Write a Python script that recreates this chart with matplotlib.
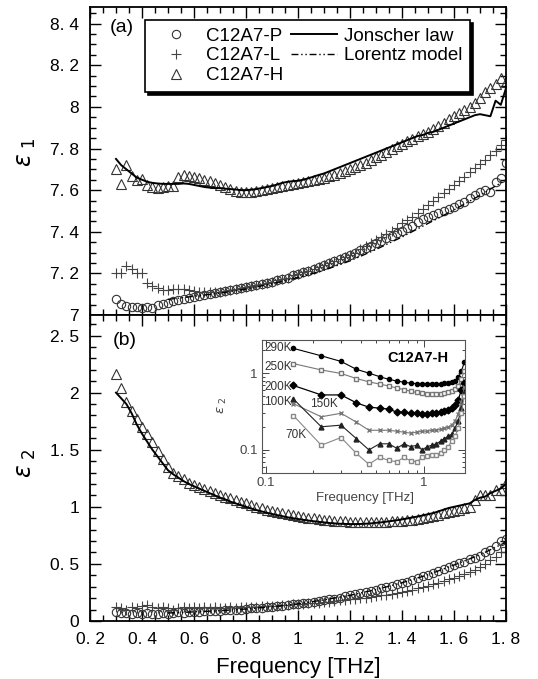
import matplotlib
matplotlib.use("Agg")
from matplotlib import pyplot as plt
from matplotlib.ticker import FixedLocator, FixedFormatter, LogLocator, NullFormatter

plt.rcParams['font.family'] = ['Liberation Sans', 'DejaVu Sans']
plt.rcParams['mathtext.fontset'] = 'dejavusans'

# ---- data ----
freq = [0.30, 0.32, 0.34, 0.36, 0.38, 0.40, 0.42, 0.44, 0.46, 0.48,
        0.50, 0.52, 0.54, 0.56, 0.58, 0.60, 0.62, 0.64, 0.66, 0.68,
        0.70, 0.72, 0.74, 0.76, 0.78, 0.80, 0.82, 0.84, 0.86, 0.88,
        0.90, 0.92, 0.94, 0.96, 0.98, 1.00, 1.02, 1.04, 1.06, 1.08,
        1.10, 1.12, 1.14, 1.16, 1.18, 1.20, 1.22, 1.24, 1.26, 1.28,
        1.30, 1.32, 1.34, 1.36, 1.38, 1.40, 1.42, 1.44, 1.46, 1.48,
        1.50, 1.52, 1.54, 1.56, 1.58, 1.60, 1.62, 1.64, 1.66, 1.68,
        1.70, 1.72, 1.74, 1.76, 1.78, 1.80]

eps1_P = [7.075, 7.055, 7.045, 7.04, 7.04, 7.035, 7.04, 7.035, 7.05, 7.055,
          7.06, 7.065, 7.07, 7.075, 7.08, 7.085, 7.09, 7.095, 7.10, 7.105,
          7.11, 7.115, 7.12, 7.125, 7.13, 7.135, 7.14, 7.145, 7.15, 7.155,
          7.16, 7.167, 7.175, 7.18, 7.19, 7.197, 7.205, 7.213, 7.22, 7.23,
          7.24, 7.25, 7.26, 7.27, 7.28, 7.29, 7.30, 7.31, 7.32, 7.33,
          7.345, 7.355, 7.37, 7.38, 7.395, 7.405, 7.42, 7.43, 7.445, 7.46,
          7.47, 7.48, 7.49, 7.50, 7.51, 7.52, 7.535, 7.545, 7.56, 7.575,
          7.59, 7.60, 7.59, 7.64, 7.66, 7.73]

eps1_L = [7.20, 7.20, 7.235, 7.22, 7.20, 7.20, 7.155, 7.14, 7.13, 7.12,
          7.12, 7.125, 7.125, 7.125, 7.12, 7.115, 7.11, 7.11, 7.11, 7.11,
          7.112, 7.115, 7.12, 7.125, 7.13, 7.135, 7.14, 7.145, 7.15, 7.155,
          7.16, 7.167, 7.175, 7.18, 7.19, 7.197, 7.205, 7.213, 7.222, 7.23,
          7.24, 7.25, 7.26, 7.27, 7.28, 7.29, 7.30, 7.315, 7.33, 7.345,
          7.36, 7.375, 7.39, 7.405, 7.42, 7.44, 7.455, 7.47, 7.49, 7.51,
          7.53, 7.55, 7.565, 7.585, 7.605, 7.625, 7.645, 7.665, 7.685, 7.705,
          7.725, 7.745, 7.77, 7.79, 7.815, 7.84]

eps1_H = [7.70, 7.63, 7.72, 7.67, 7.65, 7.655, 7.625, 7.615, 7.61, 7.615,
          7.62, 7.62, 7.665, 7.675, 7.67, 7.665, 7.66, 7.65, 7.645, 7.635,
          7.625, 7.615, 7.605, 7.595, 7.59, 7.59, 7.59, 7.595, 7.60, 7.605,
          7.61, 7.615, 7.62, 7.625, 7.63, 7.635, 7.64, 7.643, 7.648, 7.655,
          7.66, 7.667, 7.675, 7.683, 7.69, 7.70, 7.71, 7.72, 7.732, 7.745,
          7.757, 7.77, 7.785, 7.80, 7.81, 7.82, 7.835, 7.845, 7.86, 7.87,
          7.88, 7.895, 7.91, 7.925, 7.94, 7.955, 7.97, 7.985, 8.00, 8.02,
          8.045, 8.07, 8.09, 8.11, 8.14, 8.12]

jonscher_eps1 = [7.75, 7.72, 7.70, 7.68, 7.66, 7.65, 7.64, 7.635, 7.632, 7.63,
                 7.63, 7.63, 7.63, 7.632, 7.63, 7.625, 7.62, 7.615, 7.612, 7.61,
                 7.61, 7.607, 7.605, 7.603, 7.60, 7.60, 7.602, 7.605, 7.61, 7.615,
                 7.62, 7.627, 7.635, 7.64, 7.643, 7.645, 7.65, 7.657, 7.665, 7.673,
                 7.68, 7.69, 7.70, 7.71, 7.72, 7.73, 7.74, 7.75, 7.76, 7.77,
                 7.78, 7.79, 7.80, 7.81, 7.82, 7.83, 7.84, 7.85, 7.86, 7.865,
                 7.875, 7.88, 7.89, 7.90, 7.91, 7.92, 7.93, 7.94, 7.95, 7.96,
                 7.965, 7.96, 7.955, 8.03, 8.01, 8.09]

eps2_P = [0.08, 0.07, 0.07, 0.065, 0.07, 0.065, 0.07, 0.06, 0.065, 0.07,
          0.065, 0.07, 0.075, 0.07, 0.075, 0.08, 0.08, 0.085, 0.085, 0.09,
          0.09, 0.095, 0.095, 0.10, 0.10, 0.105, 0.11, 0.11, 0.115, 0.12,
          0.125, 0.13, 0.135, 0.14, 0.145, 0.15, 0.155, 0.16, 0.165, 0.175,
          0.18, 0.19, 0.195, 0.205, 0.215, 0.225, 0.235, 0.245, 0.255, 0.265,
          0.275, 0.285, 0.295, 0.31, 0.32, 0.33, 0.345, 0.36, 0.375, 0.39,
          0.405, 0.42, 0.44, 0.455, 0.47, 0.49, 0.505, 0.52, 0.54, 0.555,
          0.57, 0.60, 0.625, 0.66, 0.70, 0.72]

eps2_L = [0.12, 0.11, 0.10, 0.12, 0.11, 0.13, 0.14, 0.12, 0.11, 0.12,
          0.11, 0.10, 0.11, 0.12, 0.11, 0.12, 0.11, 0.12, 0.11, 0.12,
          0.11, 0.115, 0.12, 0.115, 0.12, 0.12, 0.125, 0.125, 0.13, 0.13,
          0.135, 0.135, 0.14, 0.14, 0.145, 0.15, 0.15, 0.155, 0.16, 0.16,
          0.165, 0.17, 0.175, 0.18, 0.185, 0.19, 0.195, 0.20, 0.205, 0.21,
          0.22, 0.225, 0.23, 0.24, 0.245, 0.255, 0.265, 0.275, 0.285, 0.295,
          0.31, 0.32, 0.335, 0.35, 0.365, 0.38, 0.395, 0.41, 0.43, 0.45,
          0.47, 0.50, 0.53, 0.56, 0.60, 0.65]

eps2_H = [2.16, 2.04, 1.92, 1.84, 1.77, 1.70, 1.64, 1.57, 1.49, 1.42,
          1.35, 1.30, 1.27, 1.24, 1.21, 1.19, 1.17, 1.155, 1.14, 1.12,
          1.105, 1.09, 1.075, 1.06, 1.045, 1.03, 1.015, 1.0, 0.99, 0.975,
          0.965, 0.955, 0.945, 0.935, 0.927, 0.92, 0.913, 0.905, 0.898, 0.892,
          0.887, 0.882, 0.878, 0.875, 0.872, 0.87, 0.868, 0.867, 0.866, 0.866,
          0.867, 0.868, 0.87, 0.872, 0.875, 0.878, 0.882, 0.888, 0.895, 0.903,
          0.912, 0.92, 0.93, 0.942, 0.955, 0.965, 0.975, 0.99, 1.00, 1.06,
          1.10, 1.10, 1.10, 1.15, 1.15, 1.21]

jonscher_eps2 = [2.00, 1.95, 1.90, 1.82, 1.72, 1.64, 1.57, 1.50, 1.44, 1.38,
                 1.32, 1.285, 1.255, 1.225, 1.20, 1.18, 1.16, 1.14, 1.12, 1.10,
                 1.08, 1.065, 1.045, 1.03, 1.015, 1.00, 0.985, 0.972, 0.96, 0.948,
                 0.937, 0.927, 0.918, 0.908, 0.90, 0.893, 0.886, 0.88, 0.874, 0.868,
                 0.863, 0.858, 0.855, 0.852, 0.85, 0.849, 0.849, 0.85, 0.852, 0.855,
                 0.86, 0.864, 0.87, 0.876, 0.882, 0.89, 0.898, 0.907, 0.915, 0.925,
                 0.935, 0.945, 0.96, 0.975, 0.99, 1.00, 1.01, 1.02, 1.03, 1.06,
                 1.08, 1.09, 1.12, 1.14, 1.16, 1.20]

freq_fit = [0.5, 0.6, 0.7, 0.8, 0.9, 1.0, 1.1, 1.2, 1.3, 1.4, 1.5, 1.6, 1.7, 1.8]
lorentz_eps1 = [7.075, 7.09, 7.105, 7.125, 7.15, 7.18, 7.215, 7.26,
                7.315, 7.375, 7.44, 7.505, 7.575, 7.65]
lorentz_eps2 = [0.07, 0.08, 0.09, 0.105, 0.125, 0.15, 0.185, 0.225,
                0.275, 0.335, 0.405, 0.49, 0.58, 0.69]

# inset: C12A7-H at several temperatures
freq_T = [0.15, 0.225, 0.30, 0.375, 0.45, 0.525, 0.60, 0.675, 0.75, 0.825, 0.90, 0.975,
          1.05, 1.125, 1.20, 1.275, 1.35, 1.425, 1.50, 1.575, 1.65, 1.725, 1.80]
eps2_290K = [2.10, 1.68, 1.42, 1.12, 1.00, 0.90, 0.83, 0.79, 0.76, 0.74, 0.73, 0.72,
             0.72, 0.72, 0.72, 0.73, 0.74, 0.75, 0.77, 0.80, 0.88, 1.05, 1.38]
eps2_250K = [1.33, 1.10, 0.99, 0.85, 0.77, 0.72, 0.68, 0.64, 0.61, 0.58, 0.56, 0.55,
             0.54, 0.53, 0.53, 0.54, 0.55, 0.56, 0.58, 0.62, 0.68, 0.85, 1.05]
eps2_200K = [0.69, 0.52, 0.52, 0.41, 0.36, 0.35, 0.34, 0.31, 0.31, 0.30, 0.30, 0.29,
             0.29, 0.30, 0.30, 0.31, 0.32, 0.33, 0.35, 0.39, 0.45, 0.60, 0.75]
eps2_150K = [0.40, 0.27, 0.30, 0.23, 0.18, 0.18, 0.18, 0.175, 0.17, 0.165, 0.17, 0.175,
             0.175, 0.18, 0.18, 0.185, 0.19, 0.20, 0.21, 0.24, 0.29, 0.42, 0.65]
eps2_100K = [0.46, 0.20, 0.21, 0.14, 0.10, 0.12, 0.12, 0.105, 0.12, 0.11, 0.115, 0.10,
             0.11, 0.115, 0.12, 0.13, 0.14, 0.15, 0.16, 0.19, 0.24, 0.35, 0.55]
eps2_70K = [0.28, 0.115, 0.145, 0.09, 0.065, 0.08, 0.073, 0.07, 0.08, 0.072, 0.07, 0.08,
            0.083, 0.085, 0.085, 0.09, 0.10, 0.11, 0.13, 0.15, 0.19, 0.30, 0.50]

x_ticks = [0.2, 0.4, 0.6, 0.8, 1.0, 1.2, 1.4, 1.6, 1.8]
x_ticklabels = ["0. 2", "0. 4", "0. 6", "0. 8", "1", "1. 2", "1. 4", "1. 6", "1. 8"]
y1_ticks = [7.0, 7.2, 7.4, 7.6, 7.8, 8.0, 8.2, 8.4]
y1_ticklabels = ["7", "7. 2", "7. 4", "7. 6", "7. 8", "8", "8. 2", "8. 4"]
y2_ticks = [0.0, 0.5, 1.0, 1.5, 2.0, 2.5]
y2_ticklabels = ["0", "0. 5", "1", "1. 5", "2", "2. 5"]

# ---- figure ----
W, H = 538, 679
fig = plt.figure(figsize=(W / 100, H / 100), dpi=100)


def box(x0, y0, x1, y1):
    return [x0 / W, 1 - y1 / H, (x1 - x0) / W, (y1 - y0) / H]


ax1 = fig.add_axes(box(90, 7, 506, 315))
ax2 = fig.add_axes(box(90, 315, 506, 621))

for ax in (ax1, ax2):
    ax.set_xlim(0.2, 1.8)
    ax.xaxis.set_major_locator(FixedLocator(x_ticks))
    ax.xaxis.set_minor_locator(FixedLocator([0.2 + 0.05 * i for i in range(33)]))
    ax.tick_params(which="both", direction="in", top=True, right=True,
                   width=1.0, labelsize=12.5, colors="k")
    ax.tick_params(which="major", length=8, pad=8)
    ax.tick_params(which="minor", length=4)
    for s in ax.spines.values():
        s.set_linewidth(1.3)

ax1.set_ylim(7.0, 8.48)
ax1.yaxis.set_major_locator(FixedLocator(y1_ticks))
ax1.yaxis.set_major_formatter(FixedFormatter(y1_ticklabels))
ax1.yaxis.set_minor_locator(FixedLocator([7.0 + 0.05 * i for i in range(30)]))
ax1.xaxis.set_major_formatter(NullFormatter())

ax2.set_ylim(0.0, 2.68)
ax2.yaxis.set_major_locator(FixedLocator(y2_ticks))
ax2.yaxis.set_major_formatter(FixedFormatter(y2_ticklabels))
ax2.yaxis.set_minor_locator(FixedLocator([0.1 * i for i in range(27)]))
ax2.xaxis.set_major_formatter(FixedFormatter(x_ticklabels))

mk_P = dict(ls="none", marker="o", mfc="none", mec="#333", ms=6, mew=0.8)
mk_L = dict(ls="none", marker="+", color="#444", ms=7, mew=0.8)
mk_H = dict(ls="none", marker="^", mfc="none", mec="#333", ms=6.5, mew=0.8)

hP, = ax1.plot(freq, eps1_P, **mk_P)
hL, = ax1.plot(freq, eps1_L, **mk_L)
hH, = ax1.plot(freq, eps1_H, **mk_H)
hJ, = ax1.plot(freq, jonscher_eps1, color="k", lw=1.4)
hLor, = ax1.plot(freq_fit, lorentz_eps1, color="k", lw=1.0, dashes=(5, 2, 1, 2, 1, 2))

ax2.plot(freq, eps2_P, **mk_P)
ax2.plot(freq, eps2_L, **mk_L)
ax2.plot(freq, eps2_H, **mk_H)
ax2.plot(freq, jonscher_eps2, color="k", lw=1.4)
ax2.plot(freq_fit, lorentz_eps2, color="k", lw=1.0, dashes=(5, 2, 1, 2, 1, 2))

leg = ax1.legend([hP, hL, hH, hJ, hLor],
                 ["C12A7-P", "C12A7-L", "C12A7-H", "Jonscher law", "Lorentz model"],
                 ncol=2, loc="upper left", bbox_to_anchor=(0.132, 0.958),
                 fontsize=13.5, frameon=True, fancybox=False,
                 shadow={"color": "k", "alpha": 1}, edgecolor="k",
                 borderpad=0.4, labelspacing=0.15, handlelength=2.5,
                 handletextpad=0.35, columnspacing=0.4, borderaxespad=0)
leg.get_frame().set_linewidth(1.2)

ax1.text(0.077, 0.935, "(a)", transform=ax1.transAxes, fontsize=14,
         ha="center", va="center")
ax2.text(0.084, 0.918, "(b)", transform=ax2.transAxes, fontsize=14,
         ha="center", va="center")

fig.text(27 / W, 1 - 152 / H, r"$\varepsilon_{\ 1}$", rotation=90, fontsize=17,
         ha="center", va="center")
fig.text(27 / W, 1 - 463 / H, r"$\varepsilon_{\ 2}$", rotation=90, fontsize=17,
         ha="center", va="center")
fig.text(298 / W, 1 - 667 / H, "Frequency [THz]", fontsize=16,
         ha="center", va="center")

# ---- inset ----
axi = fig.add_axes(box(262, 340, 465, 473))
axi.set_xscale("log")
axi.set_yscale("log")
axi.set_xlim(0.095, 1.82)
axi.set_ylim(0.05, 2.7)
axi.xaxis.set_major_locator(FixedLocator([0.1, 1.0]))
axi.xaxis.set_major_formatter(FixedFormatter(["0.1", "1"]))
axi.yaxis.set_major_locator(FixedLocator([0.1, 1.0]))
axi.yaxis.set_major_formatter(FixedFormatter(["0.1", "1"]))
axi.xaxis.set_minor_locator(LogLocator(subs=range(2, 10)))
axi.yaxis.set_minor_locator(LogLocator(subs=range(2, 10)))
axi.xaxis.set_minor_formatter(NullFormatter())
axi.yaxis.set_minor_formatter(NullFormatter())
axi.tick_params(which="both", direction="in", top=True, right=True,
                labelsize=9.5, colors="#444", width=0.7)
axi.tick_params(which="major", length=5, pad=3)
axi.tick_params(which="minor", length=2.5)
for s in axi.spines.values():
    s.set_linewidth(0.8)
    s.set_color("#555")

axi.plot(freq_T, eps2_290K, color="k", lw=0.8, marker="o", ms=3)
axi.plot(freq_T, eps2_250K, color="#777", lw=0.8, marker="s", ms=3, mfc="white")
axi.plot(freq_T, eps2_200K, color="k", lw=0.9, marker="D", ms=3.5)
axi.plot(freq_T, eps2_150K, color="#777", lw=0.8, marker="x", ms=2.5)
axi.plot(freq_T, eps2_100K, color="#222", lw=0.8, marker="^", ms=3.5)
axi.plot(freq_T, eps2_70K, color="#888", lw=0.8, marker="s", ms=3, mfc="white")

lab = dict(transform=axi.transAxes, fontsize=8.5, color="#333", va="center", ha="left")
axi.text(0.012, 0.94, "290K", **lab)
axi.text(0.012, 0.797, "250K", **lab)
axi.text(0.012, 0.647, "200K", **lab)
axi.text(0.012, 0.534, "100K", **lab)
axi.text(0.236, 0.52, "150K", **lab)
axi.text(0.113, 0.286, "70K", **lab)
axi.text(0.77, 0.865, "C12A7-H", transform=axi.transAxes, fontsize=10.5,
         fontweight="bold", ha="center", va="center")

fig.text(365 / W, 1 - 498 / H, "Frequency [THz]", fontsize=9.5, color="#444",
         ha="center", va="center")
fig.text(222 / W, 1 - 405 / H, r"$\varepsilon_{\ 2}$", rotation=90, fontsize=9.5,
         color="#444", ha="center", va="center")

fig.savefig("out.png", dpi=100)
